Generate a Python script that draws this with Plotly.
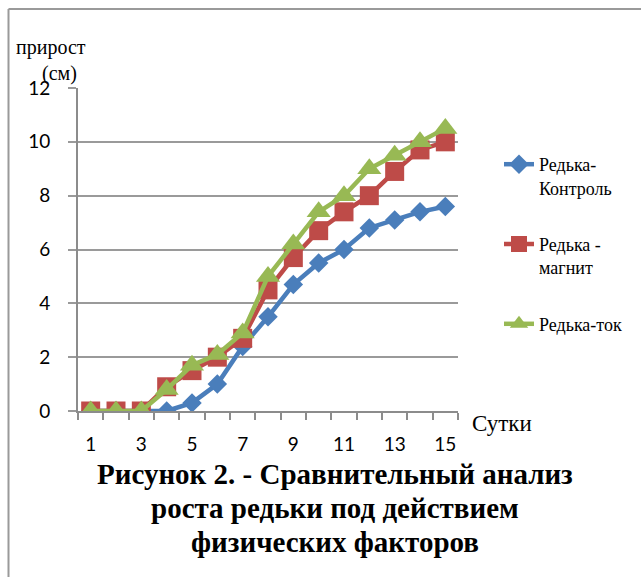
import plotly.graph_objects as go

# Growth of radish (cm) by day under different physical factors
days = list(range(1, 16))
control = [0, 0, 0, 0, 0.3, 1.0, 2.4, 3.5, 4.7, 5.5, 6.0, 6.8, 7.1, 7.4, 7.6]
magnet = [0, 0, 0, 0.9, 1.5, 2.0, 2.7, 4.5, 5.7, 6.7, 7.4, 8.0, 8.9, 9.7, 10.0]
current = [0, 0, 0, 0.8, 1.7, 2.1, 2.9, 5.0, 6.2, 7.4, 8.0, 9.0, 9.5, 10.0, 10.5]

series_names = ["Редька-<br>Контроль", "Редька -<br>магнит", "Редька-ток"]
y_ticks = [0, 2, 4, 6, 8, 10, 12]
x_tick_labels = [1, 3, 5, 7, 9, 11, 13, 15]

W, H = 641, 577
L, R, T, B = 78, 183, 88, 166
PW, PH = W - L - R, H - T - B


def px(x):
    return (x - L) / PW


def py(y):
    return (H - B - y) / PH


serif = "Liberation Serif, Times New Roman, serif"
sans = "Lato"

fig = go.Figure()
styles = [
    ("#4A7EBB", "diamond", 15),
    ("#BE4B48", "square", 19),
    ("#98B954", "triangle-up", 21),
]
for i, (vals, name, (color, sym, size)) in enumerate(
        zip([control, magnet, current], series_names, styles)):
    fig.add_trace(go.Scatter(
        x=days, y=vals, name=name, mode="lines+markers",
        line=dict(color=color, width=4.5),
        marker=dict(symbol=sym, size=size, color=color),
        legendgroup=f"g{i}",
    ))

fig.update_layout(
    width=W, height=H,
    margin=dict(l=L, r=R, t=T, b=B),
    paper_bgcolor="white", plot_bgcolor="white",
    font=dict(family=serif, color="black"),
    showlegend=True,
    legend=dict(
        x=px(499), y=py(146), xanchor="left", yanchor="top",
        font=dict(family=serif, size=18, color="black"),
        tracegroupgap=30, valign="top", bgcolor="rgba(0,0,0,0)",
    ),
    xaxis=dict(
        range=[0.5, 15.5], showgrid=False, zeroline=False,
        showline=True, linecolor="#8c8c8c", linewidth=2,
        tickvals=x_tick_labels, ticktext=[str(v) for v in x_tick_labels],
        ticks="", ticklabelstandoff=15,
        tickfont=dict(family=sans, size=19, color="black"),
        minor=dict(tickvals=[d + 0.5 for d in range(0, 16)], ticks="outside",
                   ticklen=7, tickwidth=1.5, tickcolor="#8c8c8c", showgrid=False),
    ),
    yaxis=dict(
        range=[0, 12], tickvals=y_ticks,
        showgrid=True, gridcolor="#9a9a9a", gridwidth=1.8,
        zeroline=False, showline=True, linecolor="#8c8c8c", linewidth=2,
        ticks="outside", ticklen=8, tickwidth=1.8, tickcolor="#9a9a9a",
        ticklabelstandoff=14,
        tickfont=dict(family=sans, size=19, color="black"),
    ),
)

annotations = [
    dict(text="прирост", x=px(14), y=py(48), xanchor="left", yanchor="middle",
         font=dict(family=serif, size=20, color="black")),
    dict(text="(см)", x=px(40), y=py(74), xanchor="left", yanchor="middle",
         font=dict(family=serif, size=20, color="black")),
    dict(text="Сутки", x=px(470), y=py(423), xanchor="left", yanchor="middle",
         font=dict(family=serif, size=23, color="black")),
]
title_lines = ["Рисунок 2. - Сравнительный анализ",
               "роста редьки под действием",
               "физических факторов"]
for line, yy in zip(title_lines, [474, 508, 542]):
    annotations.append(dict(
        text=f"<b>{line}</b>", x=px(335), y=py(yy), xanchor="center",
        yanchor="middle", font=dict(family=serif, size=29, color="black")))
for a in annotations:
    a.update(xref="paper", yref="paper", showarrow=False)
fig.update_layout(annotations=annotations)

# Outer frame lines (top and left edges)
fig.update_layout(shapes=[
    dict(type="line", xref="paper", yref="paper", x0=px(8.5), x1=px(W + 5),
         y0=py(9), y1=py(9), line=dict(color="#9a9a9a", width=2)),
    dict(type="line", xref="paper", yref="paper", x0=px(8.5), x1=px(8.5),
         y0=py(9), y1=py(H + 5), line=dict(color="#9a9a9a", width=2)),
])

fig.write_html("out.html")
